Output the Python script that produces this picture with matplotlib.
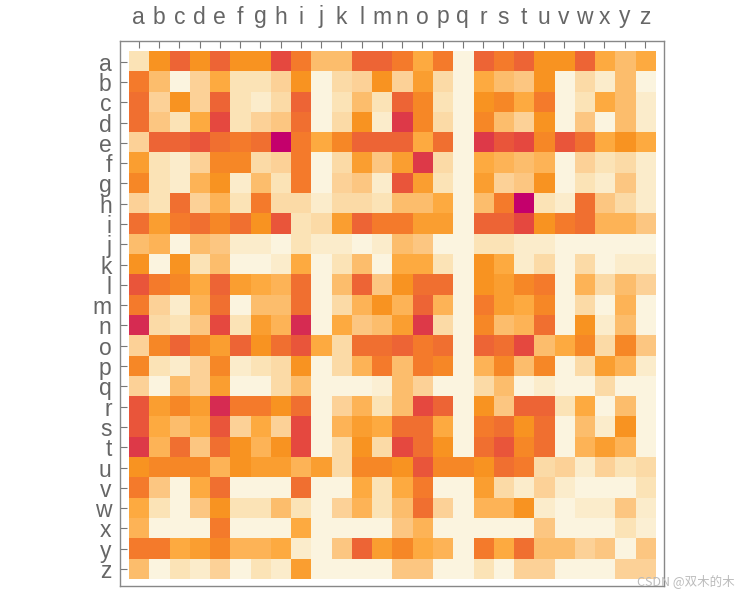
#matriz de frecuencias de bigramas (estilo MatrixPlot)
import matplotlib
matplotlib.use("Agg")
import matplotlib.pyplot as plt
from matplotlib.colors import LinearSegmentedColormap
import numpy as np

letters = list("abcdefghijklmnopqrstuvwxyz")

# intensidad, 0 = crema ... 10 = magenta
row_a = [1, 5, 7, 5, 7, 5, 5, 8, 6, 3, 3, 7, 7, 6, 4, 6, 0, 7, 6, 7, 5, 5, 7, 4, 3, 4]
row_b = [6, 3, 0, 2, 4, 1, 1, 2, 5, 0, 1.5, 2, 5, 2, 4.5, 1.5, 0, 4, 3, 2.5, 5, 0, 1.5, 0.5, 3, 0]
row_c = [6.5, 2, 5, 2, 7, 1, 0.5, 1.5, 7, 0, 1, 3, 1, 7, 5.5, 1, 0, 5, 5.5, 4, 6, 0, 1, 4, 3, 0.5]
row_d = [6.5, 2.5, 1, 4, 8, 1, 2, 2.5, 6.5, 0, 1.5, 5, 0.5, 8.5, 5.5, 1.5, 0, 5.5, 3, 2, 5, 0, 2.5, 0, 3, 0.5]
row_e = [2, 7, 7, 7.5, 6.5, 6, 6.5, 10, 6, 4, 5.5, 7, 7, 7, 4, 6.5, 0, 8.5, 7.5, 8, 5.5, 7.5, 6.5, 4, 5, 4]
row_f = [4.5, 1, 0.5, 2, 5.5, 5.5, 1.5, 2, 6, 0, 1.5, 4.5, 2.5, 4.5, 8.5, 1.5, 0, 4, 3.5, 3, 3.5, 0, 2, 1, 1.5, 0.5]
row_g = [5.5, 1, 0.5, 3.5, 5, 0.5, 3, 1, 6, 0, 2, 2.5, 0.5, 7.5, 4.5, 1, 0, 4.5, 2, 2.5, 5, 0, 1, 0.5, 2.5, 0.5]
row_h = [2, 1, 6.5, 2, 3.5, 1, 6, 1.5, 1.5, 0.5, 1.5, 1.5, 1, 3, 3, 4, 0, 3, 6, 10, 1, 0.5, 6.5, 2.5, 1.5, 0.5]
row_i = [6.5, 4.5, 6, 6.5, 5.5, 6.5, 5, 7.5, 1, 1.5, 4.5, 7, 6, 6, 4.5, 4.5, 0, 7, 7, 8, 5, 6, 6.5, 3.5, 3.5, 2.5]
row_j = [3, 3.5, 0, 3, 2.5, 0.5, 0.5, 0, 1, 0.5, 0.5, 0, 0.5, 3, 2.5, 0, 0, 1, 1, 0.5, 0.5, 0, 0, 0, 0, 0]
row_k = [5, 0, 5, 1, 3, 0, 0, 0.5, 4, 0, 1, 3, 0, 4, 4, 1, 0, 5, 4, 0.5, 1.5, 0, 1.5, 0, 0.5, 0.5]
row_l = [7.5, 6, 5.5, 4, 7, 4.5, 4, 3.5, 6.5, 0, 3, 7, 2.5, 5, 6.5, 6.5, 0, 5, 4.5, 5.5, 6, 0, 3.5, 1.5, 3, 2]
row_m = [6, 2, 0.5, 3.5, 6.5, 0, 3, 3, 6.5, 0, 1.5, 3.5, 5, 3.5, 7, 3.5, 0, 6, 4.5, 4, 5.5, 0, 1.5, 0, 3.5, 0]
row_n = [9, 1.5, 1, 2.5, 8, 1, 4.5, 3.5, 9, 0, 4, 2.5, 3, 4.5, 8.5, 1.5, 0, 5.5, 3, 3.5, 6.5, 0, 5, 0.5, 3, 0]
row_o = [2, 5.5, 7, 5.5, 4.5, 7, 5, 6.5, 7.5, 4, 1.5, 6.5, 6.5, 7, 6, 6.5, 0, 7, 6.5, 8, 3, 4, 5.5, 1.5, 5.5, 2.5]
row_p = [5.5, 1, 0.5, 2, 5.5, 0.5, 1, 1.5, 5, 0, 1.5, 3.5, 6, 3, 6, 5.5, 0, 3.5, 5.5, 3, 5.5, 0, 1.5, 4.5, 3.5, 0.5]
row_q = [2, 0, 3, 2, 4.5, 0, 0, 1.5, 3, 0, 0, 0, 0.3, 3, 2, 0, 0, 1.5, 3, 0, 0.5, 0, 0, 1.5, 0, 0]
row_r = [7.5, 4.5, 5.5, 4.5, 9, 6, 6, 5, 6.5, 0, 2, 3.5, 1, 3, 8, 7, 0, 5, 2.5, 7, 7, 1, 4, 0, 3, 0]
row_s = [7.5, 4, 3, 4, 7.5, 2, 4, 2, 8, 0, 3.5, 4.5, 4, 6.5, 6.5, 4, 0, 6, 6.5, 5, 6.5, 0, 3, 0.5, 5, 0]
row_t = [8.5, 3.5, 6.5, 2.5, 6.5, 5, 3.5, 5, 8, 0, 1.5, 5, 1.5, 8, 6.5, 5, 0, 6.5, 7.5, 5.5, 6.5, 0, 3.5, 4.5, 3.5, 0]
row_u = [5, 5.5, 5.5, 5.5, 3.5, 5, 4.5, 4.5, 3.5, 4.5, 1.5, 5.5, 5.5, 5, 7.5, 5.5, 5.5, 5, 6.5, 6, 1.5, 2, 0.5, 2, 1, 1.5]
row_v = [6, 2.5, 0, 4, 6.5, 0, 0, 0, 6.5, 0, 0, 4, 1, 4, 6, 0, 0, 4.5, 1.5, 0.5, 2, 0.5, 0, 0, 0, 1]
row_w = [4, 1, 0, 2.5, 5, 1, 1, 3, 1, 0, 2, 3.5, 1, 3, 6.5, 2, 0, 3.5, 3.5, 5, 0.5, 0, 0.5, 0.5, 2.5, 0.5]
row_x = [3.5, 0, 0, 0, 6, 0, 0, 0, 4, 0, 0, 0, 0, 2.5, 3.5, 0, 0, 0, 0, 0, 2.5, 0, 0, 0, 1, 0.3]
row_y = [6, 6, 4, 4.5, 5.5, 3.5, 3.5, 4, 0.5, 0, 2.5, 7, 4.5, 5.5, 4, 3.5, 0, 6, 4, 6.5, 3, 3, 2, 2.5, 0, 2.5]
row_z = [3, 0, 1, 0.5, 2, 0, 1, 0.5, 4.5, 0, 0, 0, 0, 2.5, 2.5, 0, 0, 1, 0, 2, 2, 0, 0, 0, 2, 2]

colors = ["#FBF4DF", "#FBE3B6", "#FCD197", "#FDBD6C", "#FDAA40", "#F99421",
		  "#F47A2C", "#EE6535", "#E5483F", "#D72C52", "#C4006C"]


def plot_matrix():
	rows = [row_a, row_b, row_c, row_d, row_e, row_f, row_g, row_h, row_i,
			row_j, row_k, row_l, row_m, row_n, row_o, row_p, row_q, row_r,
			row_s, row_t, row_u, row_v, row_w, row_x, row_y, row_z]
	data = np.array(rows, dtype=float)
	cmap = LinearSegmentedColormap.from_list("naranjas", colors)

	fig = plt.figure(figsize=(7.38, 5.95), dpi=100)
	ax = fig.add_axes([120 / 738, 1 - 586 / 595, 544 / 738, 545 / 595])
	ax.imshow(data, cmap=cmap, vmin=0, vmax=10, aspect='auto', interpolation='nearest')
	ax.set_xlim(-0.5 - 0.43, 25.5 + 0.44)
	ax.set_ylim(25.5 + 0.34, -0.5 - 0.52)

	ax.xaxis.tick_top()
	ax.set_xticks(range(26))
	ax.set_xticklabels(letters)
	ax.set_yticks(range(26))
	ax.set_yticklabels(letters)
	ax.tick_params(axis='both', direction='in', length=5, width=0.8, color='#777777',
				   labelcolor='#666666', labelsize=16.5)
	ax.tick_params(axis='x', pad=9)
	ax.tick_params(axis='y', pad=6)
	for label in ax.get_xticklabels() + ax.get_yticklabels():
		label.set_fontfamily('Liberation Sans')
	for spine in ax.spines.values():
		spine.set_color('#888888')
		spine.set_linewidth(1)

	fig.text(0.995, 0.012, "CSDN @双木的木", ha='right', va='bottom', fontsize=9,
			 color='#BBBBBB', family=['Noto Sans CJK SC', 'DejaVu Sans'])
	fig.savefig("out.png", dpi=100)


if __name__ == '__main__':
	plot_matrix()
